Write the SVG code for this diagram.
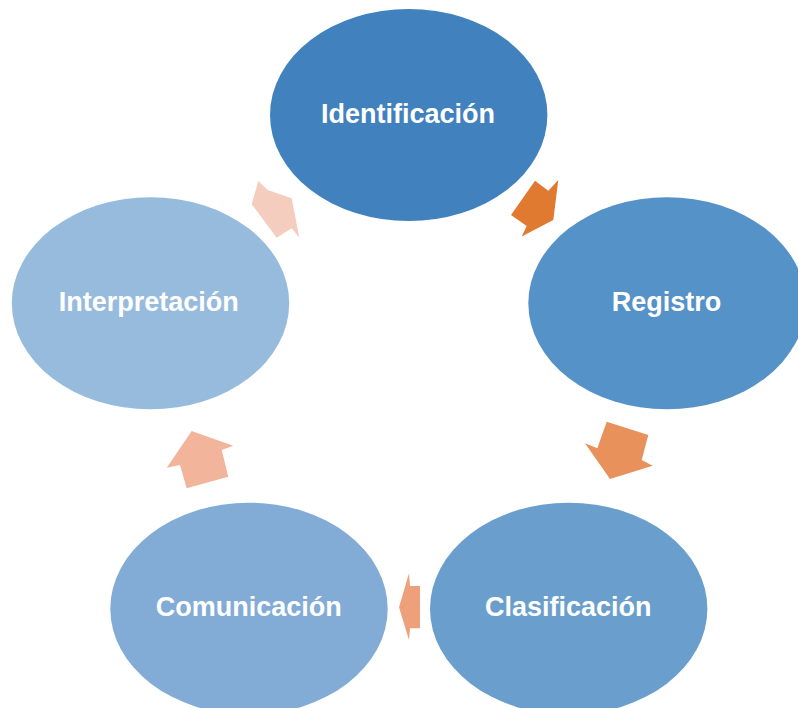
<svg xmlns="http://www.w3.org/2000/svg" width="798" height="708" viewBox="0 0 798 708">
<style>
.lbl{font-family:"Liberation Sans",Arial,sans-serif;font-weight:bold;font-size:27px;fill:#ffffff;text-anchor:middle}
</style>
<rect width="798" height="708" fill="#ffffff"/>
<g id="connectors">
<polygon points="511,215 535,180.7 548.3,190.7 558.3,180 553.3,220 521.7,236.5 526.7,226" fill="#E07A30"/>
<polygon points="606.7,421.7 648.3,435 641.7,460 652.7,465.7 610,479 585,443.3 597.3,448.3" fill="#E8915A"/>
<polygon points="420,586 420,628.3 410,628.3 409,640 399,607.3 409,573.3 410,586" fill="#EEA07B"/>
<polygon points="191.7,431 233.3,445.7 221.7,450 228.3,476.7 186.7,488.3 180,465 166.7,467.7" fill="#F2B59C"/>
<polygon points="258.3,181 267.7,190 291.7,198.3 299.3,237.7 291.7,228.3 276.7,237.7 251.7,204.3" fill="#F5CDBF"/>
</g>
<g id="identificacion">
<ellipse cx="408.7" cy="115" rx="138.7" ry="106" fill="#4181BD"/>
<text class="lbl" x="408" y="123.3">Identificación</text>
</g>
<g id="registro">
<ellipse cx="667" cy="303.3" rx="138.7" ry="106" fill="#5592C7"/>
<text class="lbl" x="666.5" y="310.7">Registro</text>
</g>
<g id="clasificacion">
<ellipse cx="568.7" cy="608.7" rx="138.7" ry="106" fill="#6A9FCD"/>
<text class="lbl" x="568.3" y="616">Clasificación</text>
</g>
<g id="comunicacion">
<ellipse cx="249" cy="608.7" rx="138.7" ry="106" fill="#82ACD6"/>
<text class="lbl" x="248.7" y="616">Comunicación</text>
</g>
<g id="interpretacion">
<ellipse cx="150.5" cy="303.3" rx="138.7" ry="106" fill="#97BBDC"/>
<text class="lbl" x="148.7" y="310.7">Interpretación</text>
</g>
</svg>
